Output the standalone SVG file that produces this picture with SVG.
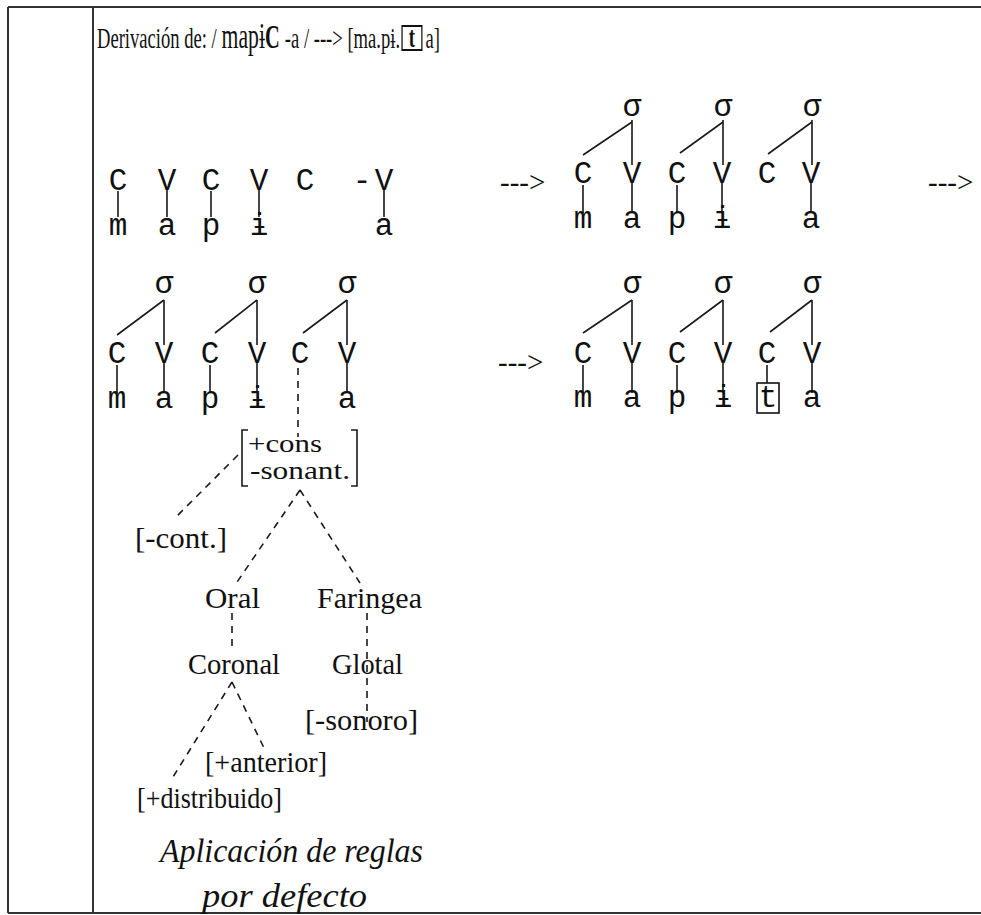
<svg xmlns="http://www.w3.org/2000/svg" width="981" height="915" viewBox="0 0 981 915">
<style>
.frame{stroke:#333;stroke-width:2;fill:none}
.sl{stroke:#1a1a1a;stroke-width:1.6;fill:none}
.dl{stroke:#1a1a1a;stroke-width:1.6;fill:none;stroke-dasharray:7 6}
.m{font-family:"Liberation Mono","DejaVu Sans Mono",monospace;font-size:31px;text-anchor:middle;fill:#111}
.s{font-family:"Liberation Serif","DejaVu Serif",serif;font-size:29px;fill:#111}
.fs{font-family:"Liberation Serif","DejaVu Serif",serif;font-size:26px;fill:#111}
.t{font-family:"Liberation Serif","DejaVu Serif",serif;fill:#111}
.i{font-family:"Liberation Serif","DejaVu Serif",serif;font-size:34px;font-style:italic;fill:#111}
.arr{font-family:"Liberation Serif","DejaVu Serif",serif;font-size:29px;fill:#111}
</style>
<rect width="981" height="915" fill="#fff"/>
<g id="frame">
<path class="frame" d="M8,7 H981 M8,7 V913 M93,7 V913 M8,913 H981"/>
</g>
<g id="title" transform="translate(97,48) scale(0.62,1)">
<text class="t" x="0" y="0" font-size="30">Derivación de: /</text>
<text class="t" x="201" y="0" font-size="35">mapɨ</text>
<text class="t" x="271" y="0" font-size="33" font-weight="bold">C</text>
<text class="t" x="303" y="0" font-size="30">-a / ---&gt; [ma.pɨ.</text>
<rect x="492" y="-22" width="32" height="24" fill="none" stroke="#111" stroke-width="2"/>
<text class="t" x="508" y="-1" font-size="30" font-weight="bold" text-anchor="middle">t</text>
<text class="t" x="530" y="0" font-size="30">a]</text>
</g>
<g id="connectors">
<path class="sl" d="M118,191 V217 M167,190 V217 M211,191 V217 M259,190 V217 M384,190 V217"/>
<path class="sl" d="M583,185 V213 M632,183 V213 M677,185 V213 M722,183 V213 M811,183 V213"/>
<path class="sl" d="M632,120 V165 M723,120 V165 M812,120 V165"/>
<path class="sl" d="M583,155 L632,122 M680,153 L723,122 M768,154 L812,122"/>
<path class="sl" d="M117,365 V393 M164,363 V393 M210,365 V393 M257,363 V393 M347,363 V393"/>
<path class="sl" d="M164,300 V345 M257,300 V345 M347,300 V345"/>
<path class="sl" d="M117,335 L164,300 M215,333 L257,300 M303,333 L347,300"/>
<path class="dl" d="M298,368 V437"/>
<path class="sl" d="M583,365 V393 M632,363 V393 M677,365 V393 M723,363 V393 M767,365 V383 M812,363 V393"/>
<path class="sl" d="M632,300 V345 M723,300 V345 M812,300 V345"/>
<path class="sl" d="M583,333 L632,300 M680,332 L723,300 M770,332 L812,300"/>
<path class="dl" d="M238,455 L175,518"/>
<path class="dl" d="M300,490 L235,585 M300,490 L360,583"/>
<path class="dl" d="M232,613 V652"/>
<path class="dl" d="M367,613 V722"/>
<path class="dl" d="M232,682 L173,777 M232,682 L265,750"/>
</g>
<g id="row1-left">
<text class="m" x="118" y="190">C</text>
<text class="m" x="167" y="190">V</text>
<text class="m" x="211" y="190">C</text>
<text class="m" x="259" y="190">V</text>
<text class="m" x="305" y="190">C</text>
<text class="m" x="362" y="190">-</text>
<text class="m" x="384" y="190">V</text>
<text class="m" x="118" y="235">m</text>
<text class="m" x="167" y="235">a</text>
<text class="m" x="211" y="235">p</text>
<text class="m" x="259" y="235">ɨ</text>
<text class="m" x="384" y="235">a</text>
</g>
<g id="arrow1"><text class="arr" x="500" y="192">---&gt;</text></g>
<g id="row1-right">
<text class="m" x="632" y="116">σ</text>
<text class="m" x="723" y="116">σ</text>
<text class="m" x="812" y="116">σ</text>
<text class="m" x="583" y="183">C</text>
<text class="m" x="632" y="183">V</text>
<text class="m" x="677" y="183">C</text>
<text class="m" x="722" y="183">V</text>
<text class="m" x="767" y="183">C</text>
<text class="m" x="811" y="183">V</text>
<text class="m" x="583" y="228">m</text>
<text class="m" x="632" y="228">a</text>
<text class="m" x="677" y="228">p</text>
<text class="m" x="722" y="228">ɨ</text>
<text class="m" x="811" y="228">a</text>
</g>
<g id="arrow2"><text class="arr" x="928" y="192">---&gt;</text></g>
<g id="row2-left">
<text class="m" x="164" y="293">σ</text>
<text class="m" x="257" y="293">σ</text>
<text class="m" x="347" y="293">σ</text>
<text class="m" x="117" y="363">C</text>
<text class="m" x="164" y="363">V</text>
<text class="m" x="210" y="363">C</text>
<text class="m" x="257" y="363">V</text>
<text class="m" x="300" y="363">C</text>
<text class="m" x="347" y="363">V</text>
<text class="m" x="117" y="408">m</text>
<text class="m" x="164" y="408">a</text>
<text class="m" x="210" y="408">p</text>
<text class="m" x="257" y="408">ɨ</text>
<text class="m" x="347" y="408">a</text>
</g>
<g id="arrow3"><text class="arr" x="498" y="372">---&gt;</text></g>
<g id="row2-right">
<text class="m" x="632" y="293">σ</text>
<text class="m" x="723" y="293">σ</text>
<text class="m" x="812" y="293">σ</text>
<text class="m" x="583" y="363">C</text>
<text class="m" x="632" y="363">V</text>
<text class="m" x="677" y="363">C</text>
<text class="m" x="723" y="363">V</text>
<text class="m" x="767" y="363">C</text>
<text class="m" x="812" y="363">V</text>
<text class="m" x="583" y="407">m</text>
<text class="m" x="632" y="407">a</text>
<text class="m" x="677" y="407">p</text>
<text class="m" x="723" y="407">ɨ</text>
<rect x="757" y="383" width="22" height="30" fill="none" stroke="#111" stroke-width="1.6"/>
<text class="m" x="768" y="407">t</text>
<text class="m" x="812" y="407">a</text>
</g>
<g id="cons-sonant">
<path class="sl" d="M248,430 H242 V486 H248 M351,430 H357 V486 H351"/>
<text class="fs" x="248" y="452" textLength="74" lengthAdjust="spacingAndGlyphs">+cons</text>
<text class="fs" x="250" y="479" textLength="100" lengthAdjust="spacingAndGlyphs">-sonant.</text>
</g>
<g id="cont"><text class="s" x="135" y="548" textLength="92" lengthAdjust="spacingAndGlyphs">[-cont.]</text></g>
<g id="oral"><text class="s" x="205" y="608" textLength="55" lengthAdjust="spacingAndGlyphs">Oral</text></g>
<g id="faringea"><text class="s" x="317" y="608" textLength="105" lengthAdjust="spacingAndGlyphs">Faringea</text></g>
<g id="coronal"><text class="s" x="188" y="674" textLength="92" lengthAdjust="spacingAndGlyphs">Coronal</text></g>
<g id="glotal"><text class="s" x="332" y="674" textLength="71" lengthAdjust="spacingAndGlyphs">Glotal</text></g>
<g id="sonoro"><text class="s" x="305" y="730" textLength="113" lengthAdjust="spacingAndGlyphs">[-sonoro]</text></g>
<g id="anterior"><text class="s" x="205" y="772" textLength="122" lengthAdjust="spacingAndGlyphs">[+anterior]</text></g>
<g id="distribuido"><text class="s" x="137" y="808" textLength="145" lengthAdjust="spacingAndGlyphs">[+distribuido]</text></g>
<g id="caption">
<text class="i" x="160" y="862" textLength="263" lengthAdjust="spacingAndGlyphs">Aplicación de reglas</text>
<text class="i" x="202" y="907" textLength="165" lengthAdjust="spacingAndGlyphs">por defecto</text>
</g>
</svg>
